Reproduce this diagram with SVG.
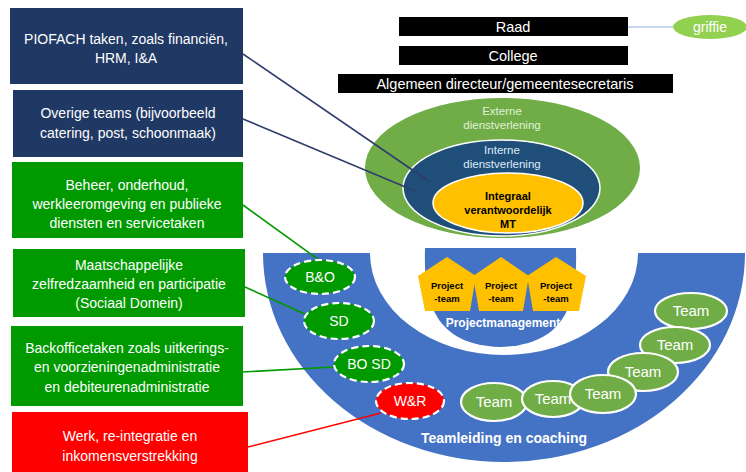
<svg xmlns="http://www.w3.org/2000/svg" width="746" height="472" viewBox="0 0 746 472">
<style>
text{font-family:"Liberation Sans",Arial,sans-serif;text-anchor:middle}
.bx{font-size:14px;fill:#fff}
.bar{fill:#000}
.bt{font-size:14.5px;fill:#fff}
.dash{stroke:#fff;stroke-width:2.2;stroke-dasharray:7 4}
.team{fill:#70AD47;stroke:#fff;stroke-width:2.2}
.tt{font-size:15px;fill:#fff}
.dt{font-size:14px;fill:#fff}
.pt{font-size:9.5px;font-weight:bold;fill:#000}
.pent{fill:#FFC000}
</style>
<rect width="746" height="472" fill="#fff"/>

<g id="left-boxes">
<g id="piofach"><rect x="10" y="8" width="233" height="76" fill="#203864"/>
<text class="bx" x="126" y="44">PIOFACH taken, zoals financiën,</text>
<text class="bx" x="126" y="63">HRM, I&amp;A</text></g>
<g id="overige"><rect x="13" y="90" width="230" height="67" fill="#203864"/>
<text class="bx" x="128" y="118">Overige teams (bijvoorbeeld</text>
<text class="bx" x="128" y="138">catering, post, schoonmaak)</text></g>
<g id="beheer"><rect x="12" y="162" width="231" height="76" fill="#009A00"/>
<text class="bx" x="127" y="190">Beheer, onderhoud,</text>
<text class="bx" x="127" y="209">werkleeromgeving en publieke</text>
<text class="bx" x="127" y="228">diensten en servicetaken</text></g>
<g id="maatschappelijk"><rect x="13" y="249" width="232" height="68" fill="#009A00"/>
<text class="bx" x="129" y="270">Maatschappelijke</text>
<text class="bx" x="129" y="289">zelfredzaamheid en participatie</text>
<text class="bx" x="129" y="308">(Sociaal Domein)</text></g>
<g id="backoffice"><rect x="11" y="326" width="232" height="80" fill="#009A00"/>
<text class="bx" x="127" y="353">Backofficetaken zoals uitkerings-</text>
<text class="bx" x="127" y="372">en voorzieningenadministratie</text>
<text class="bx" x="127" y="392">en debiteurenadministratie</text></g>
<g id="werk"><rect x="12" y="412" width="236" height="62" fill="#FF0000"/>
<text class="bx" x="130" y="441">Werk, re-integratie en</text>
<text class="bx" x="130" y="461">inkomensverstrekking</text></g>
</g>

<g id="top-bars">
<g id="raad"><rect class="bar" x="399" y="17" width="229" height="19"/><text class="bt" x="513" y="32">Raad</text></g>
<g id="college"><rect class="bar" x="399" y="46" width="229" height="19"/><text class="bt" x="513" y="61">College</text></g>
<g id="directeur"><rect class="bar" x="338" y="74" width="335" height="19"/><text class="bt" x="505" y="89">Algemeen directeur/gemeentesecretaris</text></g>
<g id="griffie"><ellipse cx="710" cy="27" rx="37" ry="12" fill="#92D050"/><text x="710" y="32" style="font-size:14px;fill:#fff">griffie</text></g>
</g>

<g id="horseshoe">
<path d="M263,253 A241,209 0 0 0 745,253 L638,253 A134,102 0 0 1 370,253 Z" fill="#4472C4"/>
<text x="504" y="443" style="font-size:14px;font-weight:bold;fill:#fff">Teamleiding en coaching</text>
</g>

<g id="projectmanagement">
<path d="M425,248 L576,248 C577,292 573,345 500,347 C428,345 424,292 425,248 Z" fill="#4472C4"/>
<g id="pt1"><polygon class="pent" points="447,257 476,276 470,311 425,311 418,276"/><text class="pt" x="447" y="289">Project</text><text class="pt" x="447" y="302">-team</text></g>
<g id="pt2"><polygon class="pent" points="501,257 529,276 523,311 479,311 473,276"/><text class="pt" x="501" y="289">Project</text><text class="pt" x="501" y="302">-team</text></g>
<g id="pt3"><polygon class="pent" points="556,257 586,276 579,311 533,311 527,276"/><text class="pt" x="556" y="289">Project</text><text class="pt" x="556" y="302">-team</text></g>
<text x="503" y="327" style="font-size:12px;font-weight:bold;fill:#fff">Projectmanagement</text>
</g>

<g id="ellipses">
<g id="extern"><ellipse cx="502.5" cy="168" rx="137.5" ry="70" fill="#70AD47"/>
<text x="502" y="115" style="font-size:11.5px;fill:#E2F0D9">Externe</text>
<text x="502" y="129" style="font-size:11.5px;fill:#E2F0D9">dienstverlening</text></g>
<g id="intern"><ellipse cx="501.5" cy="188" rx="98.5" ry="48" fill="#1F4E79" stroke="#fff" stroke-width="1.5"/>
<text x="502" y="154" style="font-size:11.5px;fill:#DEEBF7">Interne</text>
<text x="502" y="168" style="font-size:11.5px;fill:#DEEBF7">dienstverlening</text></g>
<g id="mt"><ellipse cx="508" cy="203" rx="75" ry="30" fill="#FFC000" stroke="#fff" stroke-width="1.5"/>
<text x="508" y="200" style="font-size:11px;font-weight:bold;fill:#000">Integraal</text>
<text x="508" y="214" style="font-size:11px;font-weight:bold;fill:#000">verantwoordelijk</text>
<text x="508" y="228" style="font-size:11px;font-weight:bold;fill:#000">MT</text></g>
</g>

<g id="connectors" fill="none" stroke-width="1.6">
<line x1="628" y1="27" x2="673" y2="27" stroke="#B4C7E7"/>
<line x1="243" y1="54" x2="430" y2="182" stroke="#2F3C6E"/>
<line x1="243" y1="119" x2="415" y2="191" stroke="#2F3C6E"/>
<line x1="243" y1="205" x2="319" y2="260" stroke="#009A00"/>
<line x1="245" y1="287" x2="307" y2="315" stroke="#009A00"/>
<line x1="243" y1="372" x2="334" y2="367" stroke="#009A00"/>
<line x1="248" y1="447" x2="381" y2="413" stroke="#FF0000"/>
</g>

<g id="units">
<g id="bo"><ellipse class="dash" cx="320" cy="277" rx="35" ry="17" fill="#009A00"/><text class="dt" x="320" y="282">B&amp;O</text></g>
<g id="sd"><ellipse class="dash" cx="339" cy="321" rx="35" ry="18" fill="#009A00"/><text class="dt" x="339" y="326">SD</text></g>
<g id="bosd"><ellipse class="dash" cx="369" cy="364" rx="35" ry="18" fill="#009A00"/><text class="dt" x="369" y="369">BO SD</text></g>
<g id="wr"><ellipse class="dash" cx="410" cy="401" rx="34" ry="18" fill="#FF0000"/><text class="dt" x="410" y="406">W&amp;R</text></g>
</g>

<g id="teams">
<g id="team6"><ellipse class="team" cx="691" cy="311" rx="36" ry="18"/><text class="tt" x="691" y="316">Team</text></g>
<g id="team5"><ellipse class="team" cx="675" cy="345" rx="35" ry="18"/><text class="tt" x="675" y="350">Team</text></g>
<g id="team4"><ellipse class="team" cx="643" cy="372" rx="35" ry="19"/><text class="tt" x="643" y="377">Team</text></g>
<g id="team1"><ellipse class="team" cx="494" cy="402" rx="33" ry="19"/><text class="tt" x="494" y="407">Team</text></g>
<g id="team2"><ellipse class="team" cx="553" cy="399" rx="31" ry="18"/><text class="tt" x="553" y="404">Team</text></g>
<g id="team3"><ellipse class="team" cx="603" cy="394" rx="33" ry="19"/><text class="tt" x="603" y="399">Team</text></g>
</g>
</svg>
